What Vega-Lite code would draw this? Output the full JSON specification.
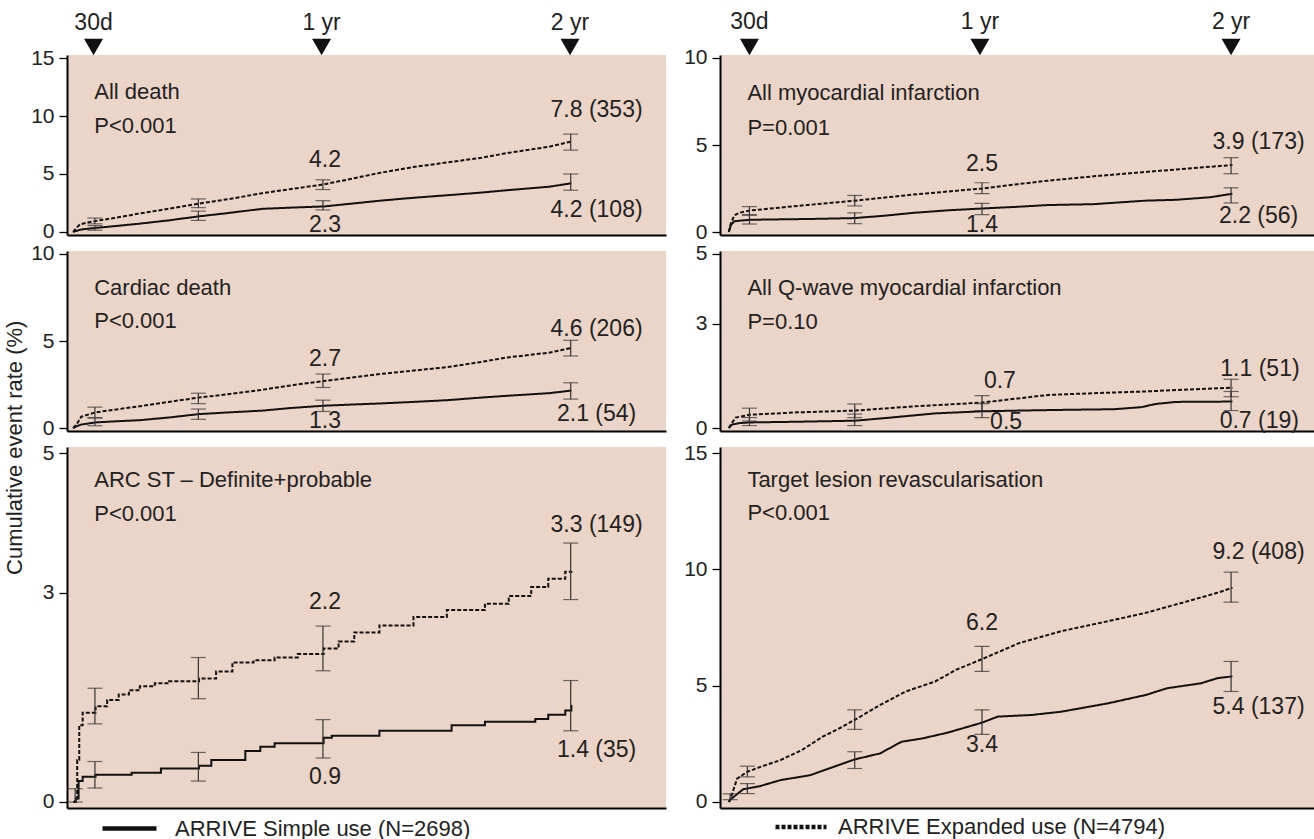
{
"$schema":"https://vega.github.io/schema/vega-lite/v6.json",
"background":"white",
"padding":{"left":3,"top":11,"right":0,"bottom":0},
"config":{
 "view":{"fill":"#EBD4C8","stroke":null},
 "font":"Liberation Sans",
 "axis":{"grid":false,"title":null,"domainColor":"#000","domainWidth":2,"tickColor":"#000","tickWidth":1.3,"tickSize":8,"labelPadding":5,"labelFont":"Liberation Sans","labelFontSize":21,"labelColor":"#222"},
 "axisX":{"ticks":false,"labels":false},
 "text":{"font":"Liberation Sans","fontSize":23,"color":"#222"}
},
"datasets":{
 "curves":[
{"p":"ad","s":"E","day":0,"v":0},{"p":"ad","s":"E","day":4,"v":0.3},{"p":"ad","s":"E","day":10,"v":0.65},{"p":"ad","s":"E","day":20,"v":0.8},{"p":"ad","s":"E","day":33,"v":0.95},{"p":"ad","s":"E","day":60,"v":1.2},{"p":"ad","s":"E","day":98,"v":1.6},{"p":"ad","s":"E","day":140,"v":2.0},{"p":"ad","s":"E","day":185,"v":2.45},{"p":"ad","s":"E","day":230,"v":2.85},{"p":"ad","s":"E","day":278,"v":3.35},{"p":"ad","s":"E","day":320,"v":3.7},{"p":"ad","s":"E","day":368,"v":4.1},{"p":"ad","s":"E","day":410,"v":4.6},{"p":"ad","s":"E","day":451,"v":5.1},{"p":"ad","s":"E","day":500,"v":5.6},{"p":"ad","s":"E","day":550,"v":6.0},{"p":"ad","s":"E","day":600,"v":6.4},{"p":"ad","s":"E","day":637,"v":6.8},{"p":"ad","s":"E","day":699,"v":7.35},{"p":"ad","s":"E","day":732,"v":7.8},
{"p":"ad","s":"S","day":0,"v":0},{"p":"ad","s":"S","day":5,"v":0.1},{"p":"ad","s":"S","day":12,"v":0.22},{"p":"ad","s":"S","day":33,"v":0.35},{"p":"ad","s":"S","day":60,"v":0.5},{"p":"ad","s":"S","day":98,"v":0.72},{"p":"ad","s":"S","day":140,"v":1.0},{"p":"ad","s":"S","day":185,"v":1.35},{"p":"ad","s":"S","day":230,"v":1.65},{"p":"ad","s":"S","day":278,"v":2.0},{"p":"ad","s":"S","day":320,"v":2.1},{"p":"ad","s":"S","day":368,"v":2.2},{"p":"ad","s":"S","day":410,"v":2.45},{"p":"ad","s":"S","day":451,"v":2.7},{"p":"ad","s":"S","day":500,"v":2.95},{"p":"ad","s":"S","day":550,"v":3.17},{"p":"ad","s":"S","day":600,"v":3.4},{"p":"ad","s":"S","day":637,"v":3.6},{"p":"ad","s":"S","day":699,"v":3.9},{"p":"ad","s":"S","day":732,"v":4.2},
{"p":"cd","s":"E","day":0,"v":0},{"p":"cd","s":"E","day":5,"v":0.2},{"p":"cd","s":"E","day":12,"v":0.65},{"p":"cd","s":"E","day":33,"v":0.9},{"p":"cd","s":"E","day":60,"v":1.05},{"p":"cd","s":"E","day":98,"v":1.25},{"p":"cd","s":"E","day":140,"v":1.5},{"p":"cd","s":"E","day":185,"v":1.75},{"p":"cd","s":"E","day":230,"v":1.95},{"p":"cd","s":"E","day":278,"v":2.2},{"p":"cd","s":"E","day":320,"v":2.45},{"p":"cd","s":"E","day":368,"v":2.7},{"p":"cd","s":"E","day":410,"v":2.9},{"p":"cd","s":"E","day":451,"v":3.1},{"p":"cd","s":"E","day":500,"v":3.3},{"p":"cd","s":"E","day":550,"v":3.5},{"p":"cd","s":"E","day":600,"v":3.8},{"p":"cd","s":"E","day":637,"v":4.05},{"p":"cd","s":"E","day":699,"v":4.33},{"p":"cd","s":"E","day":732,"v":4.6},
{"p":"cd","s":"S","day":0,"v":0},{"p":"cd","s":"S","day":5,"v":0.1},{"p":"cd","s":"S","day":12,"v":0.2},{"p":"cd","s":"S","day":33,"v":0.32},{"p":"cd","s":"S","day":60,"v":0.38},{"p":"cd","s":"S","day":98,"v":0.45},{"p":"cd","s":"S","day":140,"v":0.6},{"p":"cd","s":"S","day":185,"v":0.8},{"p":"cd","s":"S","day":230,"v":0.9},{"p":"cd","s":"S","day":278,"v":1.0},{"p":"cd","s":"S","day":320,"v":1.15},{"p":"cd","s":"S","day":368,"v":1.28},{"p":"cd","s":"S","day":410,"v":1.35},{"p":"cd","s":"S","day":451,"v":1.41},{"p":"cd","s":"S","day":500,"v":1.5},{"p":"cd","s":"S","day":550,"v":1.6},{"p":"cd","s":"S","day":600,"v":1.75},{"p":"cd","s":"S","day":637,"v":1.85},{"p":"cd","s":"S","day":699,"v":2.0},{"p":"cd","s":"S","day":732,"v":2.15},
{"p":"st","s":"E","day":0,"v":0},{"p":"st","s":"E","day":3,"v":0.05},{"p":"st","s":"E","day":6,"v":0.6},{"p":"st","s":"E","day":9,"v":1.1},{"p":"st","s":"E","day":14,"v":1.28},{"p":"st","s":"E","day":33,"v":1.37},{"p":"st","s":"E","day":50,"v":1.46},{"p":"st","s":"E","day":67,"v":1.54},{"p":"st","s":"E","day":82,"v":1.6},{"p":"st","s":"E","day":98,"v":1.66},{"p":"st","s":"E","day":120,"v":1.7},{"p":"st","s":"E","day":141,"v":1.73},{"p":"st","s":"E","day":185,"v":1.77},{"p":"st","s":"E","day":210,"v":1.87},{"p":"st","s":"E","day":234,"v":2.0},{"p":"st","s":"E","day":265,"v":2.03},{"p":"st","s":"E","day":296,"v":2.07},{"p":"st","s":"E","day":330,"v":2.12},{"p":"st","s":"E","day":368,"v":2.2},{"p":"st","s":"E","day":390,"v":2.3},{"p":"st","s":"E","day":413,"v":2.43},{"p":"st","s":"E","day":450,"v":2.53},{"p":"st","s":"E","day":500,"v":2.65},{"p":"st","s":"E","day":549,"v":2.75},{"p":"st","s":"E","day":605,"v":2.84},{"p":"st","s":"E","day":640,"v":2.95},{"p":"st","s":"E","day":673,"v":3.08},{"p":"st","s":"E","day":698,"v":3.2},{"p":"st","s":"E","day":723,"v":3.3},{"p":"st","s":"E","day":732,"v":3.31},
{"p":"st","s":"S","day":0,"v":0},{"p":"st","s":"S","day":4,"v":0.05},{"p":"st","s":"S","day":8,"v":0.3},{"p":"st","s":"S","day":14,"v":0.36},{"p":"st","s":"S","day":33,"v":0.39},{"p":"st","s":"S","day":86,"v":0.42},{"p":"st","s":"S","day":129,"v":0.48},{"p":"st","s":"S","day":185,"v":0.52},{"p":"st","s":"S","day":203,"v":0.6},{"p":"st","s":"S","day":253,"v":0.73},{"p":"st","s":"S","day":275,"v":0.79},{"p":"st","s":"S","day":296,"v":0.84},{"p":"st","s":"S","day":368,"v":0.92},{"p":"st","s":"S","day":380,"v":0.95},{"p":"st","s":"S","day":450,"v":1.02},{"p":"st","s":"S","day":556,"v":1.1},{"p":"st","s":"S","day":605,"v":1.15},{"p":"st","s":"S","day":679,"v":1.19},{"p":"st","s":"S","day":698,"v":1.25},{"p":"st","s":"S","day":723,"v":1.31},{"p":"st","s":"S","day":732,"v":1.39}
,
{"p":"mi","s":"E","day":0,"v":0},{"p":"mi","s":"E","day":3,"v":0.5},{"p":"mi","s":"E","day":8,"v":0.95},{"p":"mi","s":"E","day":15,"v":1.1},{"p":"mi","s":"E","day":30,"v":1.23},{"p":"mi","s":"E","day":100,"v":1.5},{"p":"mi","s":"E","day":183,"v":1.8},{"p":"mi","s":"E","day":268,"v":2.15},{"p":"mi","s":"E","day":368,"v":2.5},{"p":"mi","s":"E","day":420,"v":2.75},{"p":"mi","s":"E","day":464,"v":2.95},{"p":"mi","s":"E","day":530,"v":3.2},{"p":"mi","s":"E","day":605,"v":3.45},{"p":"mi","s":"E","day":684,"v":3.7},{"p":"mi","s":"E","day":732,"v":3.85},
{"p":"mi","s":"S","day":0,"v":0},{"p":"mi","s":"S","day":3,"v":0.4},{"p":"mi","s":"S","day":8,"v":0.62},{"p":"mi","s":"S","day":30,"v":0.7},{"p":"mi","s":"S","day":60,"v":0.72},{"p":"mi","s":"S","day":120,"v":0.75},{"p":"mi","s":"S","day":183,"v":0.8},{"p":"mi","s":"S","day":230,"v":0.95},{"p":"mi","s":"S","day":268,"v":1.1},{"p":"mi","s":"S","day":320,"v":1.25},{"p":"mi","s":"S","day":368,"v":1.35},{"p":"mi","s":"S","day":420,"v":1.45},{"p":"mi","s":"S","day":464,"v":1.55},{"p":"mi","s":"S","day":530,"v":1.6},{"p":"mi","s":"S","day":605,"v":1.8},{"p":"mi","s":"S","day":650,"v":1.85},{"p":"mi","s":"S","day":700,"v":2.0},{"p":"mi","s":"S","day":732,"v":2.2},
{"p":"qmi","s":"E","day":0,"v":0},{"p":"qmi","s":"E","day":3,"v":0.1},{"p":"qmi","s":"E","day":10,"v":0.3},{"p":"qmi","s":"E","day":30,"v":0.38},{"p":"qmi","s":"E","day":100,"v":0.45},{"p":"qmi","s":"E","day":183,"v":0.5},{"p":"qmi","s":"E","day":268,"v":0.62},{"p":"qmi","s":"E","day":368,"v":0.73},{"p":"qmi","s":"E","day":420,"v":0.85},{"p":"qmi","s":"E","day":464,"v":0.95},{"p":"qmi","s":"E","day":530,"v":1.0},{"p":"qmi","s":"E","day":605,"v":1.05},{"p":"qmi","s":"E","day":684,"v":1.12},{"p":"qmi","s":"E","day":732,"v":1.16},
{"p":"qmi","s":"S","day":0,"v":0},{"p":"qmi","s":"S","day":5,"v":0.1},{"p":"qmi","s":"S","day":15,"v":0.14},{"p":"qmi","s":"S","day":30,"v":0.16},{"p":"qmi","s":"S","day":100,"v":0.18},{"p":"qmi","s":"S","day":183,"v":0.21},{"p":"qmi","s":"S","day":230,"v":0.29},{"p":"qmi","s":"S","day":300,"v":0.42},{"p":"qmi","s":"S","day":368,"v":0.48},{"p":"qmi","s":"S","day":420,"v":0.5},{"p":"qmi","s":"S","day":480,"v":0.52},{"p":"qmi","s":"S","day":560,"v":0.54},{"p":"qmi","s":"S","day":600,"v":0.6},{"p":"qmi","s":"S","day":620,"v":0.69},{"p":"qmi","s":"S","day":650,"v":0.75},{"p":"qmi","s":"S","day":732,"v":0.76},
{"p":"tlr","s":"E","day":0,"v":0},{"p":"tlr","s":"E","day":2,"v":0.1},{"p":"tlr","s":"E","day":12,"v":1.0},{"p":"tlr","s":"E","day":27,"v":1.3},{"p":"tlr","s":"E","day":45,"v":1.5},{"p":"tlr","s":"E","day":75,"v":1.8},{"p":"tlr","s":"E","day":106,"v":2.23},{"p":"tlr","s":"E","day":136,"v":2.8},{"p":"tlr","s":"E","day":161,"v":3.17},{"p":"tlr","s":"E","day":183,"v":3.53},{"p":"tlr","s":"E","day":220,"v":4.17},{"p":"tlr","s":"E","day":257,"v":4.75},{"p":"tlr","s":"E","day":300,"v":5.18},{"p":"tlr","s":"E","day":330,"v":5.68},{"p":"tlr","s":"E","day":368,"v":6.14},{"p":"tlr","s":"E","day":422,"v":6.83},{"p":"tlr","s":"E","day":483,"v":7.34},{"p":"tlr","s":"E","day":551,"v":7.77},{"p":"tlr","s":"E","day":606,"v":8.13},{"p":"tlr","s":"E","day":667,"v":8.63},{"p":"tlr","s":"E","day":710,"v":8.99},{"p":"tlr","s":"E","day":732,"v":9.21},
{"p":"tlr","s":"S","day":0,"v":0},{"p":"tlr","s":"S","day":2,"v":0.1},{"p":"tlr","s":"S","day":21,"v":0.55},{"p":"tlr","s":"S","day":27,"v":0.58},{"p":"tlr","s":"S","day":45,"v":0.68},{"p":"tlr","s":"S","day":75,"v":0.94},{"p":"tlr","s":"S","day":118,"v":1.15},{"p":"tlr","s":"S","day":183,"v":1.83},{"p":"tlr","s":"S","day":220,"v":2.09},{"p":"tlr","s":"S","day":251,"v":2.59},{"p":"tlr","s":"S","day":281,"v":2.73},{"p":"tlr","s":"S","day":318,"v":2.98},{"p":"tlr","s":"S","day":368,"v":3.41},{"p":"tlr","s":"S","day":391,"v":3.67},{"p":"tlr","s":"S","day":440,"v":3.74},{"p":"tlr","s":"S","day":483,"v":3.88},{"p":"tlr","s":"S","day":551,"v":4.24},{"p":"tlr","s":"S","day":606,"v":4.6},{"p":"tlr","s":"S","day":637,"v":4.89},{"p":"tlr","s":"S","day":686,"v":5.1},{"p":"tlr","s":"S","day":710,"v":5.32},{"p":"tlr","s":"S","day":732,"v":5.4}
 ],
 "bars":[
{"p":"ad","s":"E","day":32,"v":0.7,"v2":1.2},{"p":"ad","s":"E","day":184,"v":2.1,"v2":2.85},{"p":"ad","s":"E","day":367,"v":3.66,"v2":4.5},{"p":"ad","s":"E","day":731,"v":7.06,"v2":8.44},
{"p":"ad","s":"S","day":32,"v":0.15,"v2":0.55},{"p":"ad","s":"S","day":184,"v":1.0,"v2":1.8},{"p":"ad","s":"S","day":367,"v":1.9,"v2":2.7},{"p":"ad","s":"S","day":731,"v":3.6,"v2":5.0},
{"p":"cd","s":"E","day":32,"v":0.6,"v2":1.2},{"p":"cd","s":"E","day":184,"v":1.4,"v2":2.0},{"p":"cd","s":"E","day":367,"v":2.33,"v2":3.1},{"p":"cd","s":"E","day":731,"v":4.14,"v2":5.04},
{"p":"cd","s":"S","day":32,"v":0.13,"v2":0.57},{"p":"cd","s":"S","day":184,"v":0.5,"v2":1.09},{"p":"cd","s":"S","day":367,"v":0.95,"v2":1.6},{"p":"cd","s":"S","day":731,"v":1.66,"v2":2.6},
{"p":"st","s":"E","day":3,"v":0.0,"v2":0.19},{"p":"st","s":"E","day":32,"v":1.12,"v2":1.63},{"p":"st","s":"E","day":184,"v":1.48,"v2":2.07},{"p":"st","s":"E","day":367,"v":1.88,"v2":2.52},{"p":"st","s":"E","day":731,"v":2.9,"v2":3.71},
{"p":"st","s":"S","day":32,"v":0.2,"v2":0.58},{"p":"st","s":"S","day":184,"v":0.3,"v2":0.71},{"p":"st","s":"S","day":367,"v":0.63,"v2":1.18},{"p":"st","s":"S","day":731,"v":1.02,"v2":1.74},
{"p":"mi","s":"E","day":30,"v":0.96,"v2":1.46},{"p":"mi","s":"E","day":183,"v":1.5,"v2":2.1},{"p":"mi","s":"E","day":368,"v":2.2,"v2":2.83},{"p":"mi","s":"E","day":730,"v":3.35,"v2":4.27},
{"p":"mi","s":"S","day":30,"v":0.46,"v2":1.0},{"p":"mi","s":"S","day":183,"v":0.48,"v2":1.1},{"p":"mi","s":"S","day":368,"v":1.0,"v2":1.65},{"p":"mi","s":"S","day":730,"v":1.67,"v2":2.54},
{"p":"qmi","s":"E","day":30,"v":0.2,"v2":0.57},{"p":"qmi","s":"E","day":183,"v":0.3,"v2":0.69},{"p":"qmi","s":"E","day":368,"v":0.5,"v2":0.93},{"p":"qmi","s":"E","day":730,"v":0.9,"v2":1.4},
{"p":"qmi","s":"S","day":30,"v":0.07,"v2":0.3},{"p":"qmi","s":"S","day":183,"v":0.07,"v2":0.4},{"p":"qmi","s":"S","day":368,"v":0.3,"v2":0.7},{"p":"qmi","s":"S","day":730,"v":0.5,"v2":1.05},
{"p":"tlr","s":"E","day":2,"v":0.1,"v2":0.35},{"p":"tlr","s":"E","day":27,"v":1.08,"v2":1.54},{"p":"tlr","s":"E","day":183,"v":3.12,"v2":3.96},{"p":"tlr","s":"E","day":368,"v":5.61,"v2":6.69},{"p":"tlr","s":"E","day":730,"v":8.59,"v2":9.88},
{"p":"tlr","s":"S","day":27,"v":0.36,"v2":0.79},{"p":"tlr","s":"S","day":183,"v":1.44,"v2":2.16},{"p":"tlr","s":"S","day":368,"v":2.91,"v2":3.96},{"p":"tlr","s":"S","day":730,"v":4.75,"v2":6.04}
 ],
 "labels":[
{"p":"ad","day":370,"v":6.2,"t":"4.2"},{"p":"ad","day":370,"v":0.58,"t":"2.3"},{"p":"ad","day":769,"v":10.5,"t":"7.8 (353)"},{"p":"ad","day":769,"v":1.87,"t":"4.2 (108)"},
{"p":"ad","day":30,"v":18.06,"t":"30d"},{"p":"ad","day":365,"v":18.06,"t":"1 yr"},{"p":"ad","day":730,"v":18.06,"t":"2 yr"},
{"p":"cd","day":370,"v":3.95,"t":"2.7"},{"p":"cd","day":370,"v":0.42,"t":"1.3"},{"p":"cd","day":769,"v":5.7,"t":"4.6 (206)"},{"p":"cd","day":769,"v":0.8,"t":"2.1 (54)"},
{"p":"st","day":370,"v":2.87,"t":"2.2"},{"p":"st","day":370,"v":0.36,"t":"0.9"},{"p":"st","day":769,"v":3.97,"t":"3.3 (149)"},{"p":"st","day":769,"v":0.75,"t":"1.4 (35)"},
{"p":"mi","day":368,"v":3.9,"t":"2.5"},{"p":"mi","day":368,"v":0.38,"t":"1.4"},{"p":"mi","day":770,"v":5.2,"t":"3.9 (173)"},{"p":"mi","day":770,"v":0.9,"t":"2.2 (56)"},
{"p":"mi","day":30,"v":12.04,"t":"30d"},{"p":"mi","day":365,"v":12.04,"t":"1 yr"},{"p":"mi","day":730,"v":12.04,"t":"2 yr"},
{"p":"qmi","day":394,"v":1.35,"t":"0.7"},{"p":"qmi","day":403,"v":0.16,"t":"0.5"},{"p":"qmi","day":772,"v":1.69,"t":"1.1 (51)"},{"p":"qmi","day":771,"v":0.21,"t":"0.7 (19)"},
{"p":"tlr","day":368,"v":7.7,"t":"6.2"},{"p":"tlr","day":368,"v":2.45,"t":"3.4"},{"p":"tlr","day":770,"v":10.75,"t":"9.2 (408)"},{"p":"tlr","day":770,"v":4.1,"t":"5.4 (137)"}
 ],
 "titles":[
{"p":"ad","day":31,"v":12.1,"t":"All death"},{"p":"ad","day":31,"v":9.1,"t":"P<0.001"},
{"p":"cd","day":31,"v":8.05,"t":"Cardiac death"},{"p":"cd","day":31,"v":6.15,"t":"P<0.001"},
{"p":"st","day":31,"v":4.61,"t":"ARC ST – Definite+probable"},{"p":"st","day":31,"v":4.13,"t":"P<0.001"},
{"p":"mi","day":27,"v":8.0,"t":"All myocardial infarction"},{"p":"mi","day":27,"v":6.0,"t":"P=0.001"},
{"p":"qmi","day":27,"v":4.03,"t":"All Q-wave myocardial infarction"},{"p":"qmi","day":27,"v":3.04,"t":"P=0.10"},
{"p":"tlr","day":27,"v":13.86,"t":"Target lesion revascularisation"},{"p":"tlr","day":27,"v":12.42,"t":"P<0.001"}
 ],
 "markers":[
{"p":"ad","day":30,"v":15.95},{"p":"ad","day":365,"v":15.95},{"p":"ad","day":730,"v":15.95},
{"p":"mi","day":30,"v":10.63},{"p":"mi","day":365,"v":10.63},{"p":"mi","day":730,"v":10.63}
 ]
},
"hconcat":[
{
 "title":{"text":"Cumulative event rate (%)","orient":"left","anchor":"middle","fontSize":22,"fontWeight":"normal","font":"Liberation Sans","color":"#222","offset":4,"dx":-22},
 "spacing":16,"bounds":"flush",
 "resolve":{"scale":{"strokeDash":"independent"},"legend":{"strokeDash":"independent"}},
 "vconcat":[
 {"width":599,"height":180,
  "encoding":{"x":{"field":"day","type":"quantitative","scale":{"domain":[-9,871],"nice":false,"zero":false}},
   "y":{"field":"v","type":"quantitative","scale":{"domain":[-0.259,15.259],"nice":false,"zero":false},"axis":{"values":[0,5,10,15]}}},
  "layer":[
   {"data":{"name":"curves"},"transform":[{"filter":"datum.p=='ad'"}],"mark":{"type":"line","strokeWidth":2,"color":"#111"},
    "encoding":{"strokeDash":{"field":"s","type":"nominal","scale":{"domain":["S","E"],"range":[[1,0],[4,2]]},"legend":null}}},
   {"data":{"name":"bars"},"transform":[{"filter":"datum.p=='ad'"}],"mark":{"type":"rule","color":"#333","strokeWidth":1.2},"encoding":{"y2":{"field":"v2"}}},
   {"data":{"name":"bars"},"transform":[{"filter":"datum.p=='ad'"}],"mark":{"type":"tick","orient":"horizontal","size":15,"thickness":1.2,"color":"#333"}},
   {"data":{"name":"bars"},"transform":[{"filter":"datum.p=='ad'"}],"mark":{"type":"tick","orient":"horizontal","size":15,"thickness":1.2,"color":"#333"},"encoding":{"y":{"field":"v2","type":"quantitative"}}},
   {"data":{"name":"labels"},"transform":[{"filter":"datum.p=='ad'"}],"mark":{"type":"text","align":"center","baseline":"middle"},"encoding":{"text":{"field":"t"}}},
   {"data":{"name":"titles"},"transform":[{"filter":"datum.p=='ad'"}],"mark":{"type":"text","align":"left","baseline":"middle","fontSize":22},"encoding":{"text":{"field":"t"}}},
   {"data":{"name":"markers"},"transform":[{"filter":"datum.p=='ad'"}],"mark":{"type":"point","shape":"triangle-down","filled":true,"size":361,"color":"#111","opacity":1}}
  ]},
 {"width":599,"height":180,
  "encoding":{"x":{"field":"day","type":"quantitative","scale":{"domain":[-9,871],"nice":false,"zero":false}},
   "y":{"field":"v","type":"quantitative","scale":{"domain":[-0.172,10.172],"nice":false,"zero":false},"axis":{"values":[0,5,10]}}},
  "layer":[
   {"data":{"name":"curves"},"transform":[{"filter":"datum.p=='cd'"}],"mark":{"type":"line","strokeWidth":2,"color":"#111"},
    "encoding":{"strokeDash":{"field":"s","type":"nominal","scale":{"domain":["S","E"],"range":[[1,0],[4,2]]},"legend":null}}},
   {"data":{"name":"bars"},"transform":[{"filter":"datum.p=='cd'"}],"mark":{"type":"rule","color":"#333","strokeWidth":1.2},"encoding":{"y2":{"field":"v2"}}},
   {"data":{"name":"bars"},"transform":[{"filter":"datum.p=='cd'"}],"mark":{"type":"tick","orient":"horizontal","size":15,"thickness":1.2,"color":"#333"}},
   {"data":{"name":"bars"},"transform":[{"filter":"datum.p=='cd'"}],"mark":{"type":"tick","orient":"horizontal","size":15,"thickness":1.2,"color":"#333"},"encoding":{"y":{"field":"v2","type":"quantitative"}}},
   {"data":{"name":"labels"},"transform":[{"filter":"datum.p=='cd'"}],"mark":{"type":"text","align":"center","baseline":"middle"},"encoding":{"text":{"field":"t"}}},
   {"data":{"name":"titles"},"transform":[{"filter":"datum.p=='cd'"}],"mark":{"type":"text","align":"left","baseline":"middle","fontSize":22},"encoding":{"text":{"field":"t"}}}
  ]},
 {"width":599,"height":361,
  "encoding":{"x":{"field":"day","type":"quantitative","scale":{"domain":[-9,871],"nice":false,"zero":false}},
   "y":{"field":"v","type":"quantitative","scale":{"domain":[-0.086,5.086],"nice":false,"zero":false},"axis":{"values":[0,3,5]}}},
  "layer":[
   {"data":{"name":"curves"},"transform":[{"filter":"datum.p=='st'"}],"mark":{"type":"line","strokeWidth":2,"color":"#111","interpolate":"step-after"},
    "encoding":{"strokeDash":{"field":"s","type":"nominal","scale":{"domain":["S","E"],"range":[[1,0],[4,2]]},
     "legend":{"orient":"none","legendX":33,"legendY":352,"values":["S"],"title":null,"labelExpr":"'ARRIVE Simple use (N=2698)'","symbolType":"stroke","symbolSize":2916,"symbolStrokeWidth":4.5,"labelFontSize":22,"labelFont":"Liberation Sans","labelColor":"#222","labelOffset":16,"labelLimit":0}}}},
   {"data":{"name":"bars"},"transform":[{"filter":"datum.p=='st'"}],"mark":{"type":"rule","color":"#333","strokeWidth":1.2},"encoding":{"y2":{"field":"v2"}}},
   {"data":{"name":"bars"},"transform":[{"filter":"datum.p=='st'"}],"mark":{"type":"tick","orient":"horizontal","size":15,"thickness":1.2,"color":"#333"}},
   {"data":{"name":"bars"},"transform":[{"filter":"datum.p=='st'"}],"mark":{"type":"tick","orient":"horizontal","size":15,"thickness":1.2,"color":"#333"},"encoding":{"y":{"field":"v2","type":"quantitative"}}},
   {"data":{"name":"labels"},"transform":[{"filter":"datum.p=='st'"}],"mark":{"type":"text","align":"center","baseline":"middle"},"encoding":{"text":{"field":"t"}}},
   {"data":{"name":"titles"},"transform":[{"filter":"datum.p=='st'"}],"mark":{"type":"text","align":"left","baseline":"middle","fontSize":22},"encoding":{"text":{"field":"t"}}}
  ]}
 ]
},
{
 "spacing":16,"bounds":"flush",
 "resolve":{"scale":{"strokeDash":"independent"},"legend":{"strokeDash":"independent"}},
 "vconcat":[
 {"width":595,"height":180,
  "encoding":{"x":{"field":"day","type":"quantitative","scale":{"domain":[-12.8,852],"nice":false,"zero":false}},
   "y":{"field":"v","type":"quantitative","scale":{"domain":[-0.172,10.172],"nice":false,"zero":false},"axis":{"values":[0,5,10]}}},
  "layer":[
   {"data":{"name":"curves"},"transform":[{"filter":"datum.p=='mi'"}],"mark":{"type":"line","strokeWidth":2,"color":"#111"},
    "encoding":{"strokeDash":{"field":"s","type":"nominal","scale":{"domain":["S","E"],"range":[[1,0],[4,2]]},"legend":null}}},
   {"data":{"name":"bars"},"transform":[{"filter":"datum.p=='mi'"}],"mark":{"type":"rule","color":"#333","strokeWidth":1.2},"encoding":{"y2":{"field":"v2"}}},
   {"data":{"name":"bars"},"transform":[{"filter":"datum.p=='mi'"}],"mark":{"type":"tick","orient":"horizontal","size":15,"thickness":1.2,"color":"#333"}},
   {"data":{"name":"bars"},"transform":[{"filter":"datum.p=='mi'"}],"mark":{"type":"tick","orient":"horizontal","size":15,"thickness":1.2,"color":"#333"},"encoding":{"y":{"field":"v2","type":"quantitative"}}},
   {"data":{"name":"labels"},"transform":[{"filter":"datum.p=='mi'"}],"mark":{"type":"text","align":"center","baseline":"middle"},"encoding":{"text":{"field":"t"}}},
   {"data":{"name":"titles"},"transform":[{"filter":"datum.p=='mi'"}],"mark":{"type":"text","align":"left","baseline":"middle","fontSize":22},"encoding":{"text":{"field":"t"}}},
   {"data":{"name":"markers"},"transform":[{"filter":"datum.p=='mi'"}],"mark":{"type":"point","shape":"triangle-down","filled":true,"size":361,"color":"#111","opacity":1}}
  ]},
 {"width":595,"height":180,
  "encoding":{"x":{"field":"day","type":"quantitative","scale":{"domain":[-12.8,852],"nice":false,"zero":false}},
   "y":{"field":"v","type":"quantitative","scale":{"domain":[-0.086,5.086],"nice":false,"zero":false},"axis":{"values":[0,3,5]}}},
  "layer":[
   {"data":{"name":"curves"},"transform":[{"filter":"datum.p=='qmi'"}],"mark":{"type":"line","strokeWidth":2,"color":"#111"},
    "encoding":{"strokeDash":{"field":"s","type":"nominal","scale":{"domain":["S","E"],"range":[[1,0],[4,2]]},"legend":null}}},
   {"data":{"name":"bars"},"transform":[{"filter":"datum.p=='qmi'"}],"mark":{"type":"rule","color":"#333","strokeWidth":1.2},"encoding":{"y2":{"field":"v2"}}},
   {"data":{"name":"bars"},"transform":[{"filter":"datum.p=='qmi'"}],"mark":{"type":"tick","orient":"horizontal","size":15,"thickness":1.2,"color":"#333"}},
   {"data":{"name":"bars"},"transform":[{"filter":"datum.p=='qmi'"}],"mark":{"type":"tick","orient":"horizontal","size":15,"thickness":1.2,"color":"#333"},"encoding":{"y":{"field":"v2","type":"quantitative"}}},
   {"data":{"name":"labels"},"transform":[{"filter":"datum.p=='qmi'"}],"mark":{"type":"text","align":"center","baseline":"middle"},"encoding":{"text":{"field":"t"}}},
   {"data":{"name":"titles"},"transform":[{"filter":"datum.p=='qmi'"}],"mark":{"type":"text","align":"left","baseline":"middle","fontSize":22},"encoding":{"text":{"field":"t"}}}
  ]},
 {"width":595,"height":361,
  "encoding":{"x":{"field":"day","type":"quantitative","scale":{"domain":[-12.8,852],"nice":false,"zero":false}},
   "y":{"field":"v","type":"quantitative","scale":{"domain":[-0.258,15.258],"nice":false,"zero":false},"axis":{"values":[0,5,10,15]}}},
  "layer":[
   {"data":{"name":"curves"},"transform":[{"filter":"datum.p=='tlr'"}],"mark":{"type":"line","strokeWidth":2,"color":"#111"},
    "encoding":{"strokeDash":{"field":"s","type":"nominal","scale":{"domain":["S","E"],"range":[[1,0],[4,2]]},
     "legend":{"orient":"none","legendX":53,"legendY":352,"values":["E"],"title":null,"labelExpr":"'ARRIVE Expanded use (N=4794)'","symbolType":"stroke","symbolSize":2601,"symbolStrokeWidth":4.5,"labelFontSize":22,"labelFont":"Liberation Sans","labelColor":"#222","labelOffset":9,"labelLimit":0}}}},
   {"data":{"name":"bars"},"transform":[{"filter":"datum.p=='tlr'"}],"mark":{"type":"rule","color":"#333","strokeWidth":1.2},"encoding":{"y2":{"field":"v2"}}},
   {"data":{"name":"bars"},"transform":[{"filter":"datum.p=='tlr'"}],"mark":{"type":"tick","orient":"horizontal","size":15,"thickness":1.2,"color":"#333"}},
   {"data":{"name":"bars"},"transform":[{"filter":"datum.p=='tlr'"}],"mark":{"type":"tick","orient":"horizontal","size":15,"thickness":1.2,"color":"#333"},"encoding":{"y":{"field":"v2","type":"quantitative"}}},
   {"data":{"name":"labels"},"transform":[{"filter":"datum.p=='tlr'"}],"mark":{"type":"text","align":"center","baseline":"middle"},"encoding":{"text":{"field":"t"}}},
   {"data":{"name":"titles"},"transform":[{"filter":"datum.p=='tlr'"}],"mark":{"type":"text","align":"left","baseline":"middle","fontSize":22},"encoding":{"text":{"field":"t"}}}
  ]}
 ]
}
],
"spacing":17,
"resolve":{"scale":{"strokeDash":"independent"},"legend":{"strokeDash":"independent"}}
}
